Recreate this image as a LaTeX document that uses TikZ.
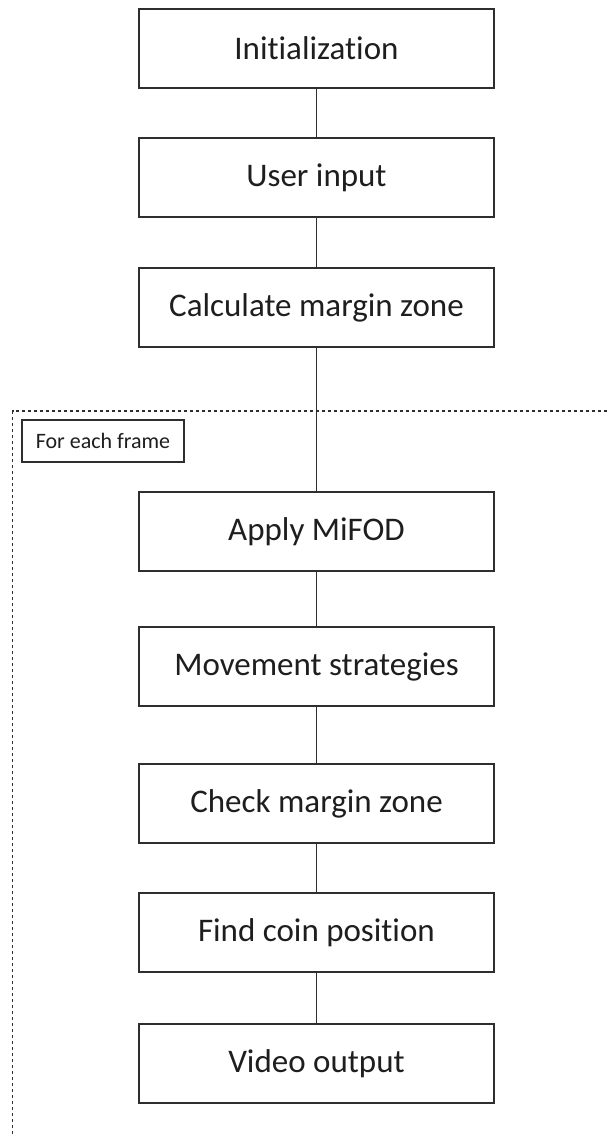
\documentclass[tikz,border=0pt]{standalone}
\usepackage{fontspec}
\setmainfont[RawFeature={-liga;-clig;-dlig}]{Carlito}
\definecolor{linecol}{HTML}{2E2E2E}
\definecolor{textcol}{HTML}{1E1E1E}
\begin{document}
\begin{tikzpicture}[x=1pt,y=-1pt,
  stepbox/.style={draw=linecol, line width=1.6pt, rectangle, minimum width=355pt, minimum height=79pt, inner sep=0pt, text=textcol, font=\fontsize{33}{40}\selectfont},
  labelbox/.style={draw=linecol, line width=1.4pt, rectangle, minimum width=162pt, minimum height=42pt, inner sep=0pt, text=textcol, font=\fontsize{22}{26}\selectfont},
  link/.style={draw=linecol, line width=1.6pt},
  frame/.style={draw=linecol, line width=1.4pt, dash pattern=on 3.5pt off 2.5pt}]
\useasboundingbox (0,0) rectangle (607,1135);
\fill[white] (0,0) rectangle (607,1135);
\draw[frame] (12.5,1140) -- (12.5,411) -- (615,411);
\node[labelbox] (lbl) at (103,441) {For each frame};
\node[stepbox] (n1) at (316.5,48.5) {Initialization};
\node[stepbox] (n2) at (316.5,177.5) {User input};
\node[stepbox] (n3) at (316.5,307.5) {Calculate margin zone};
\node[stepbox] (n4) at (316.5,531.5) {Apply MiFOD};
\node[stepbox] (n5) at (316.5,666.5) {Movement strategies};
\node[stepbox] (n6) at (316.5,803.5) {Check margin zone};
\node[stepbox] (n7) at (316.5,932.5) {Find coin position};
\node[stepbox] (n8) at (316.5,1063.5) {Video output};
\draw[link] (n1) -- (n2);
\draw[link] (n2) -- (n3);
\draw[link] (n3) -- (n4);
\draw[link] (n4) -- (n5);
\draw[link] (n5) -- (n6);
\draw[link] (n6) -- (n7);
\draw[link] (n7) -- (n8);
\end{tikzpicture}
\end{document}
